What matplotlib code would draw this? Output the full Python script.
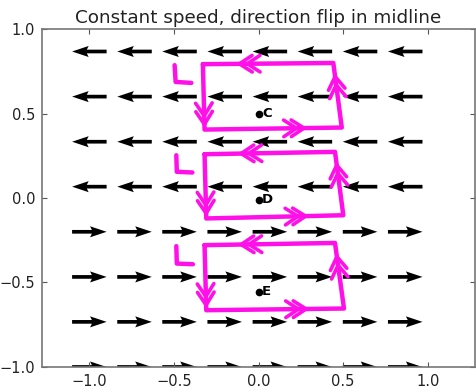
import numpy as np
import matplotlib
matplotlib.use("Agg")
import matplotlib.pyplot as plt

# grid of the field (same positions in x and y)
x_cols = [-1.0, -0.733, -0.467, -0.2, 0.067, 0.333, 0.6, 0.867]
y_rows = [-1.0, -0.733, -0.467, -0.2, 0.067, 0.333, 0.6, 0.867]
# direction of each row (+1 right, -1 left): flips at the midline
row_dir = [1, 1, 1, 1, -1, -1, -1, -1]

# points marked by hand
pt_names = ["C", "D", "E"]
pt_x = [0.0, 0.0, 0.0]
pt_y = [0.5, -0.01, -0.556]

# hand drawn loops: corners TL, TR, BR, BL
loops = [
    [(-0.329, 0.792), (0.442, 0.799), (0.492, 0.417), (-0.319, 0.405)],
    [(-0.319, 0.259), (0.452, 0.273), (0.501, -0.102), (-0.309, -0.121)],
    [(-0.319, -0.279), (0.452, -0.266), (0.505, -0.654), (-0.309, -0.664)],
]
# "L" marks left of each loop
l_marks = [
    [(-0.496, 0.786), (-0.490, 0.687), (-0.397, 0.681)],
    [(-0.486, 0.253), (-0.483, 0.155), (-0.391, 0.151)],
    [(-0.486, -0.285), (-0.483, -0.388), (-0.388, -0.392)],
]
# where the double chevrons sit along each edge (fraction from edge start)
chev_top = [0.66, 0.72]
chev_left = [0.79, 0.92]
chev_bottom = [0.67, 0.725]
chev_right = [0.66, 0.79]

pink = "#ff10e8"

X, Y = np.meshgrid(x_cols, y_rows)
U = np.array(row_dir, dtype=float)[:, None] * np.ones_like(X)
V = np.zeros_like(X)

fig = plt.figure(figsize=(4.77, 3.89), dpi=100)
ax = fig.add_axes([0.088, 0.0566, 0.908, 0.8688])

ax.quiver(X, Y, U, V, pivot="middle", angles="xy", scale_units="xy", scale=4.9,
          width=0.0085, headwidth=3, headlength=4.5, headaxislength=4, color="black")


def chevron(ax, tip, d, size=0.09, ang=33):
    d = np.array(d, dtype=float)
    d = d / np.linalg.norm(d)
    pts = []
    for s in (1, -1):
        a = np.deg2rad(s * ang)
        r = np.array([[np.cos(a), -np.sin(a)], [np.sin(a), np.cos(a)]]) @ d
        pts.append(np.array(tip) - size * r)
    ax.plot([pts[0][0], tip[0], pts[1][0]], [pts[0][1], tip[1], pts[1][1]],
            color=pink, lw=2.6, solid_capstyle="round", solid_joinstyle="round")


for loop in loops:
    tl, tr, br, bl = [np.array(p) for p in loop]
    xs = [tl[0], tr[0], br[0], bl[0], tl[0]]
    ys = [tl[1], tr[1], br[1], bl[1], tl[1]]
    ax.plot(xs, ys, color=pink, lw=3.2, solid_capstyle="round", solid_joinstyle="round")
    edges = [(tr, tl, chev_top), (tl, bl, chev_left), (bl, br, chev_bottom), (br, tr, chev_right)]
    for a, b, fr in edges:
        for f in fr:
            chevron(ax, a + f * (b - a), b - a)

for lm in l_marks:
    ax.plot([p[0] for p in lm], [p[1] for p in lm], color=pink, lw=3.2,
            solid_capstyle="round", solid_joinstyle="round")

for name, px, py in zip(pt_names, pt_x, pt_y):
    ax.plot(px, py, "o", color="black", ms=4.5)
    ax.text(px + 0.02, py, name, fontsize=9.5, fontweight="bold", ha="left", va="center")

ax.set_xlim(-1.28, 1.28)
ax.set_ylim(-1, 1)
ax.set_xticks([-1.0, -0.5, 0.0, 0.5, 1.0])
ax.set_yticks([-1.0, -0.5, 0.0, 0.5, 1.0])
ax.tick_params(direction="in", top=True, right=True, length=3.5, labelsize=10.5,
               colors="#555555", labelcolor="#222222", pad=5)
for sp in ax.spines.values():
    sp.set_color("#777777")
    sp.set_linewidth(1.2)
ax.set_title("Constant speed, direction flip in midline", fontsize=13.2, pad=4, color="#222222")

fig.savefig("out.png", dpi=100)
